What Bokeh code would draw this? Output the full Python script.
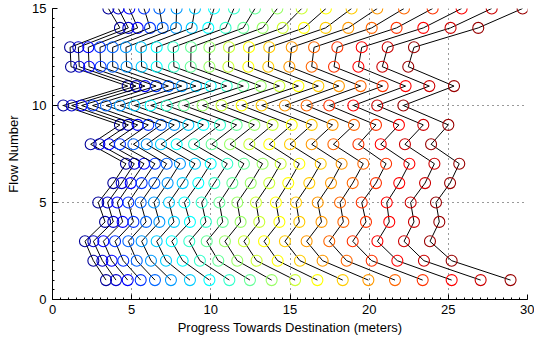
from bokeh.plotting import figure
from bokeh.models import Range1d, FixedTicker
from bokeh.embed import file_html
from bokeh.resources import INLINE

# Progress (meters) of each flow at 20 successive time steps.
flow_numbers = list(range(1, 16))
flow1 = [3.38, 4.01, 4.75, 5.57, 6.47, 7.48, 8.68, 9.91, 11.17, 12.47, 13.84, 15.32, 16.73, 18.33, 19.95, 21.63, 23.38, 25.21, 27.04, 28.93]
flow2 = [2.58, 3.15, 3.74, 4.47, 5.32, 6.22, 7.17, 8.22, 9.31, 10.47, 11.67, 12.89, 14.22, 15.63, 17.06, 18.58, 20.16, 21.78, 23.46, 25.21]
flow3 = [2.05, 2.58, 3.21, 3.95, 4.79, 5.63, 6.58, 7.53, 8.64, 9.74, 10.89, 12.09, 13.36, 14.68, 16.05, 17.48, 18.96, 20.52, 22.20, 23.84]
flow4 = [3.32, 3.84, 4.43, 5.11, 5.91, 6.75, 7.67, 8.68, 9.69, 10.75, 11.88, 13.06, 14.33, 15.59, 16.99, 18.37, 19.80, 21.27, 22.83, 24.43]
flow5 = [2.89, 3.48, 4.09, 4.79, 5.57, 6.41, 7.36, 8.33, 9.42, 10.54, 11.67, 12.85, 14.11, 15.38, 16.75, 18.16, 19.53, 21.11, 22.62, 24.22]
flow6 = [3.84, 4.37, 4.94, 5.63, 6.43, 7.27, 8.22, 9.21, 10.22, 11.36, 12.52, 13.69, 14.89, 16.22, 17.59, 18.96, 20.43, 21.90, 23.53, 25.11]
flow7 = [4.64, 5.17, 5.78, 6.47, 7.21, 8.05, 9.00, 9.99, 11.04, 12.09, 13.27, 14.41, 15.59, 16.94, 18.26, 19.63, 21.07, 22.54, 24.12, 25.69]
flow8 = [2.41, 2.96, 3.57, 4.26, 5.11, 5.95, 6.85, 7.84, 8.94, 10.05, 11.21, 12.43, 13.69, 15.00, 16.37, 17.74, 19.32, 20.73, 22.26, 23.91]
flow9 = [4.26, 4.79, 5.38, 6.05, 6.85, 7.69, 8.58, 9.53, 10.58, 11.63, 12.75, 13.90, 15.11, 16.37, 17.69, 19.04, 20.43, 21.88, 23.42, 25.00]
flow10 = [0.68, 1.21, 1.84, 2.54, 3.38, 4.26, 5.17, 6.20, 7.21, 8.31, 9.48, 10.68, 11.95, 13.21, 14.68, 16.05, 17.48, 19.00, 20.51, 22.16]
flow11 = [4.75, 5.27, 5.84, 6.54, 7.32, 8.16, 9.06, 9.99, 11.00, 12.05, 13.15, 14.33, 15.53, 16.79, 18.09, 19.46, 20.85, 22.30, 23.80, 25.36]
flow12 = [1.17, 1.69, 2.31, 3.04, 3.80, 4.68, 5.63, 6.58, 7.67, 8.73, 9.91, 11.11, 12.37, 13.63, 14.96, 16.37, 17.78, 19.32, 20.83, 22.47]
flow13 = [1.11, 1.63, 2.26, 3.00, 3.80, 4.64, 5.59, 6.58, 7.63, 8.75, 9.91, 11.15, 12.41, 13.69, 15.11, 16.52, 17.99, 19.53, 21.17, 22.83]
flow14 = [4.26, 4.79, 5.38, 6.16, 6.96, 7.80, 8.79, 9.84, 10.93, 12.05, 13.27, 14.54, 15.88, 17.25, 18.68, 20.16, 21.73, 23.42, 25.14, 26.89]
flow15 = [3.53, 4.16, 4.85, 5.78, 6.75, 7.84, 9.00, 10.20, 11.46, 12.79, 14.20, 15.74, 17.27, 18.89, 20.51, 22.20, 24.01, 25.84, 27.74, 29.69]

flows = [flow1, flow2, flow3, flow4, flow5, flow6, flow7, flow8, flow9, flow10,
         flow11, flow12, flow13, flow14, flow15]
n_steps = len(flow1)


def jet(m):
    """MATLAB-style jet colormap with m entries, as hex strings."""
    n = -(-m // 4)
    u = [i / n for i in range(1, n + 1)] + [1.0] * (n - 1) + [i / n for i in range(n, 0, -1)]
    g0 = -(-n // 2) - (1 if m % 4 == 1 else 0)
    g = [g0 + i for i in range(1, len(u) + 1)]
    r = [v + n for v in g if v + n <= m]
    b = [v - n for v in g if v - n >= 1]
    g = [v for v in g if v <= m]
    cmap = [[0.0, 0.0, 0.0] for _ in range(m)]
    for k, idx in enumerate(r):
        cmap[idx - 1][0] = u[k]
    for k, idx in enumerate(g):
        cmap[idx - 1][1] = u[k]
    for k, idx in enumerate(b):
        cmap[idx - 1][2] = u[len(u) - len(b) + k]
    return ["#%02x%02x%02x" % tuple(int(round(c * 255)) for c in rgb) for rgb in cmap]


colors = jet(n_steps)

p = figure(width=534, height=347, output_backend="svg", toolbar_location=None,
           x_range=Range1d(0, 30), y_range=Range1d(0, 15),
           min_border_left=52, min_border_right=7, min_border_top=8, min_border_bottom=48)
p.outline_line_color = None
p.background_fill_color = "white"
p.border_fill_color = "white"

for t in range(n_steps):
    xs = [f[t] for f in flows]
    p.line(xs, flow_numbers, line_color="black", line_width=1)
    p.scatter(xs, flow_numbers, marker="circle", size=11, fill_color=None,
              line_color=colors[t], line_width=1.1)

font = "Liberation Sans"
p.xaxis.ticker = FixedTicker(ticks=[0, 5, 10, 15, 20, 25, 30],
                             minor_ticks=[i * 0.5 for i in range(61)])
p.yaxis.ticker = FixedTicker(ticks=[0, 5, 10, 15],
                             minor_ticks=[i * 0.5 for i in range(31)])
for ax in (p.xaxis[0], p.yaxis[0]):
    ax.axis_line_color = "black"
    ax.major_tick_line_color = "black"
    ax.minor_tick_line_color = "black"
    ax.major_tick_in = 5
    ax.major_tick_out = 0
    ax.minor_tick_in = 2
    ax.minor_tick_out = 0
    ax.major_label_text_font = font
    ax.major_label_text_font_size = "13px"
    ax.major_label_text_color = "black"
    ax.axis_label_text_font = font
    ax.axis_label_text_font_size = "13px"
    ax.axis_label_text_font_style = "normal"
    ax.axis_label_text_color = "black"

p.xaxis.axis_label = "Progress Towards Destination (meters)"
p.yaxis.axis_label = "Flow Number"
p.xaxis.major_label_standoff = 5
p.xaxis.axis_label_standoff = 3
p.yaxis.major_label_standoff = 6
p.yaxis.axis_label_standoff = 8

p.grid.grid_line_color = "black"
p.grid.grid_line_dash = "1 4"
p.grid.grid_line_width = 1
p.grid.grid_line_alpha = 0.8

open("out.html", "w").write(file_html(p, INLINE))
